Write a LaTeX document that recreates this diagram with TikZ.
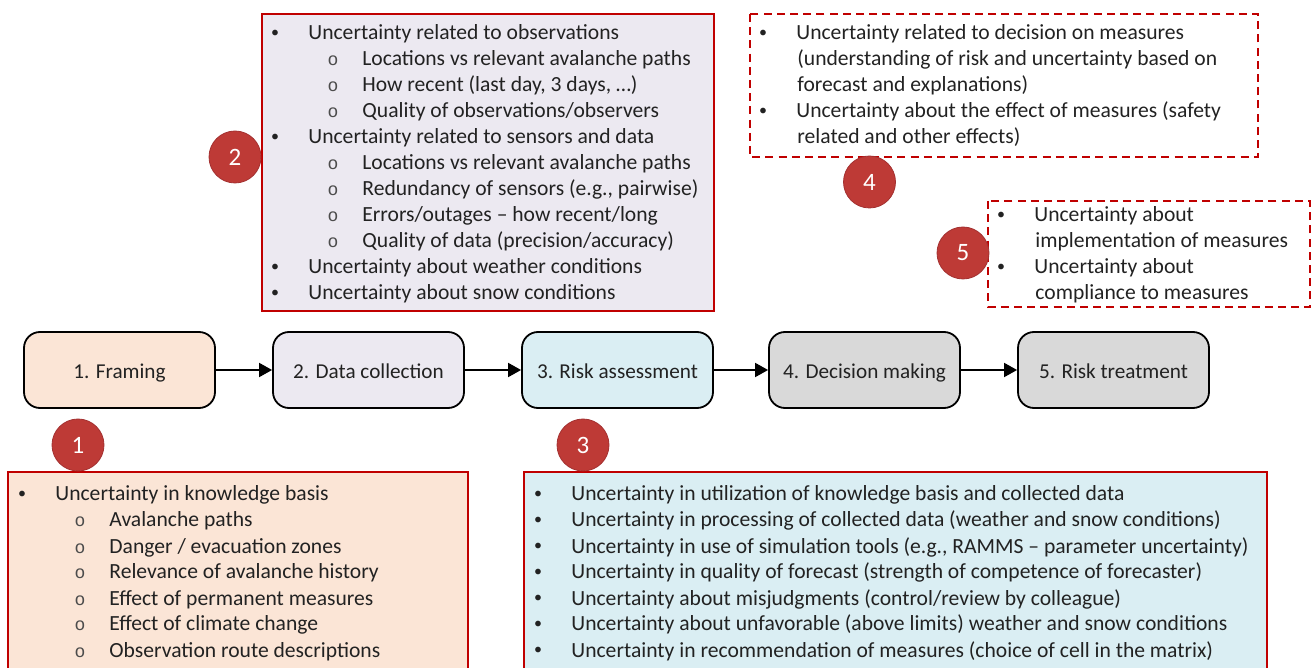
\documentclass[tikz,border=0pt]{standalone}
\usepackage{fontspec}
\setmainfont{Carlito}
\newfontfamily\monof{Liberation Mono}
\usetikzlibrary{arrows.meta}
\definecolor{peach}{HTML}{FBE5D6}
\definecolor{lav}{HTML}{ECE9F1}
\definecolor{lblue}{HTML}{DAEEF3}
\definecolor{lgray}{HTML}{D9D9D9}
\definecolor{redb}{HTML}{C00000}
\definecolor{circf}{HTML}{BE3A36}
\definecolor{circd}{HTML}{A33030}
\definecolor{txtc}{HTML}{222222}
\newcommand\itemlist[4]{%
  \foreach \lv/\t [count=\i from 0] in {#4} {%
    \pgfmathsetmacro\yy{#3+26*\i+7}%
    \ifnum\lv=1
      \node[bul] (#1b\i) at (#2,\yy) {•};
      \node[txt] (#1t\i) at (#2+33,\yy) {\t};
    \else\ifnum\lv=2
      \node[subb] (#1b\i) at (#2+58,\yy) {o};
      \node[txt] (#1t\i) at (#2+87,\yy) {\t};
    \else
      \node[txt] (#1t\i) at (#2+34,\yy) {\t};
    \fi\fi
  }}
\begin{document}
\begin{tikzpicture}[x=0.5pt,y=-0.5pt,
  font=\fontsize{10.8}{13}\selectfont, text=txtc,
  flow/.style={draw=black, line width=0.9pt, rounded corners=8pt, minimum width=95.5pt,
    minimum height=38pt, inner sep=0pt, text height=9pt, text depth=0pt,
    font=\fontsize{10.6}{13}\selectfont},
  conn/.style={line width=0.9pt, -{Triangle[length=6.5pt,width=7pt]}},
  rbox/.style={draw=redb, line width=1pt},
  dbox/.style={draw=redb, line width=1pt, dash pattern=on 4pt off 2.6pt},
  num/.style={circle, fill=circf, draw=circd, line width=0.4pt, minimum size=26pt, inner sep=0pt,
    text=white, font=\fontsize{12.5}{14}\selectfont},
  txt/.style={anchor=base west, inner sep=0pt},
  bul/.style={anchor=base, inner sep=0pt, yshift=1.2pt, font=\fontsize{8}{10}\selectfont},
  subb/.style={anchor=base, inner sep=0pt, font=\monof\fontsize{9}{10}\selectfont, text=black!70}]
\useasboundingbox (0,0) rectangle (1314,668);
\clip (0,0) rectangle (1314,668);

% flow nodes
\node[flow, fill=peach] (f1) at (119.5,370) {1. Framing};
\node[flow, fill=lav]   (f2) at (368.5,370) {2. Data collection};
\node[flow, fill=lblue] (f3) at (617.5,370) {3. Risk assessment};
\node[flow, fill=lgray] (f4) at (864.5,370) {4. Decision making};
\node[flow, fill=lgray] (f5) at (1113.5,370) {5. Risk treatment};
\draw[conn] (f1) -- (f2);
\draw[conn] (f2) -- (f3);
\draw[conn] (f3) -- (f4);
\draw[conn] (f4) -- (f5);

% box 2
\draw[rbox, fill=lav] (262,14) rectangle (714,311);
\itemlist{bx2}{275}{33}{1/{Uncertainty related to observations},
  2/{Locations vs relevant avalanche paths},
  2/{How recent (last day, 3 days, …)},
  2/{Quality of observations/observers},
  1/{Uncertainty related to sensors and data},
  2/{Locations vs relevant avalanche paths},
  2/{Redundancy of sensors (e.g., pairwise)},
  2/{Errors/outages – how recent/long},
  2/{Quality of data (precision/accuracy)},
  1/{Uncertainty about weather conditions},
  1/{Uncertainty about snow conditions}}
\node[num] (n2) at (235,157) {2};

% box 4
\draw[dbox] (750,14) rectangle (1258,157);
\itemlist{bx4}{763}{33}{1/{Uncertainty related to decision on measures},
  0/{(understanding of risk and uncertainty based on},
  0/{forecast and explanations)},
  1/{Uncertainty about the effect of measures (safety},
  0/{related and other effects)}}
\node[num] (n4) at (869.5,182) {4};

% box 5
\draw[dbox] (988,201) rectangle (1310,307);
\itemlist{bx5}{1001}{215}{1/{Uncertainty about},
  0/{implementation of measures},
  1/{Uncertainty about},
  0/{compliance to measures}}
\node[num] (n5) at (963,253) {5};

% box 1
\draw[rbox, fill=peach] (8,472) rectangle (468,690);
\itemlist{bx1}{22}{494}{1/{Uncertainty in knowledge basis},
  2/{Avalanche paths},
  2/{Danger / evacuation zones},
  2/{Relevance of avalanche history},
  2/{Effect of permanent measures},
  2/{Effect of climate change},
  2/{Observation route descriptions}}
\node[num] (n1) at (78,445) {1};

% box 3
\draw[rbox, fill=lblue] (524,472) rectangle (1267,690);
\itemlist{bx3}{538}{494}{1/{Uncertainty in utilization of knowledge basis and collected data},
  1/{Uncertainty in processing of collected data (weather and snow conditions)},
  1/{Uncertainty in use of simulation tools (e.g., RAMMS – parameter uncertainty)},
  1/{Uncertainty in quality of forecast (strength of competence of forecaster)},
  1/{Uncertainty about misjudgments (control/review by colleague)},
  1/{Uncertainty about unfavorable (above limits) weather and snow conditions},
  1/{Uncertainty in recommendation of measures (choice of cell in the matrix)}}
\node[num] (n3) at (583,445) {3};
\end{tikzpicture}
\end{document}
